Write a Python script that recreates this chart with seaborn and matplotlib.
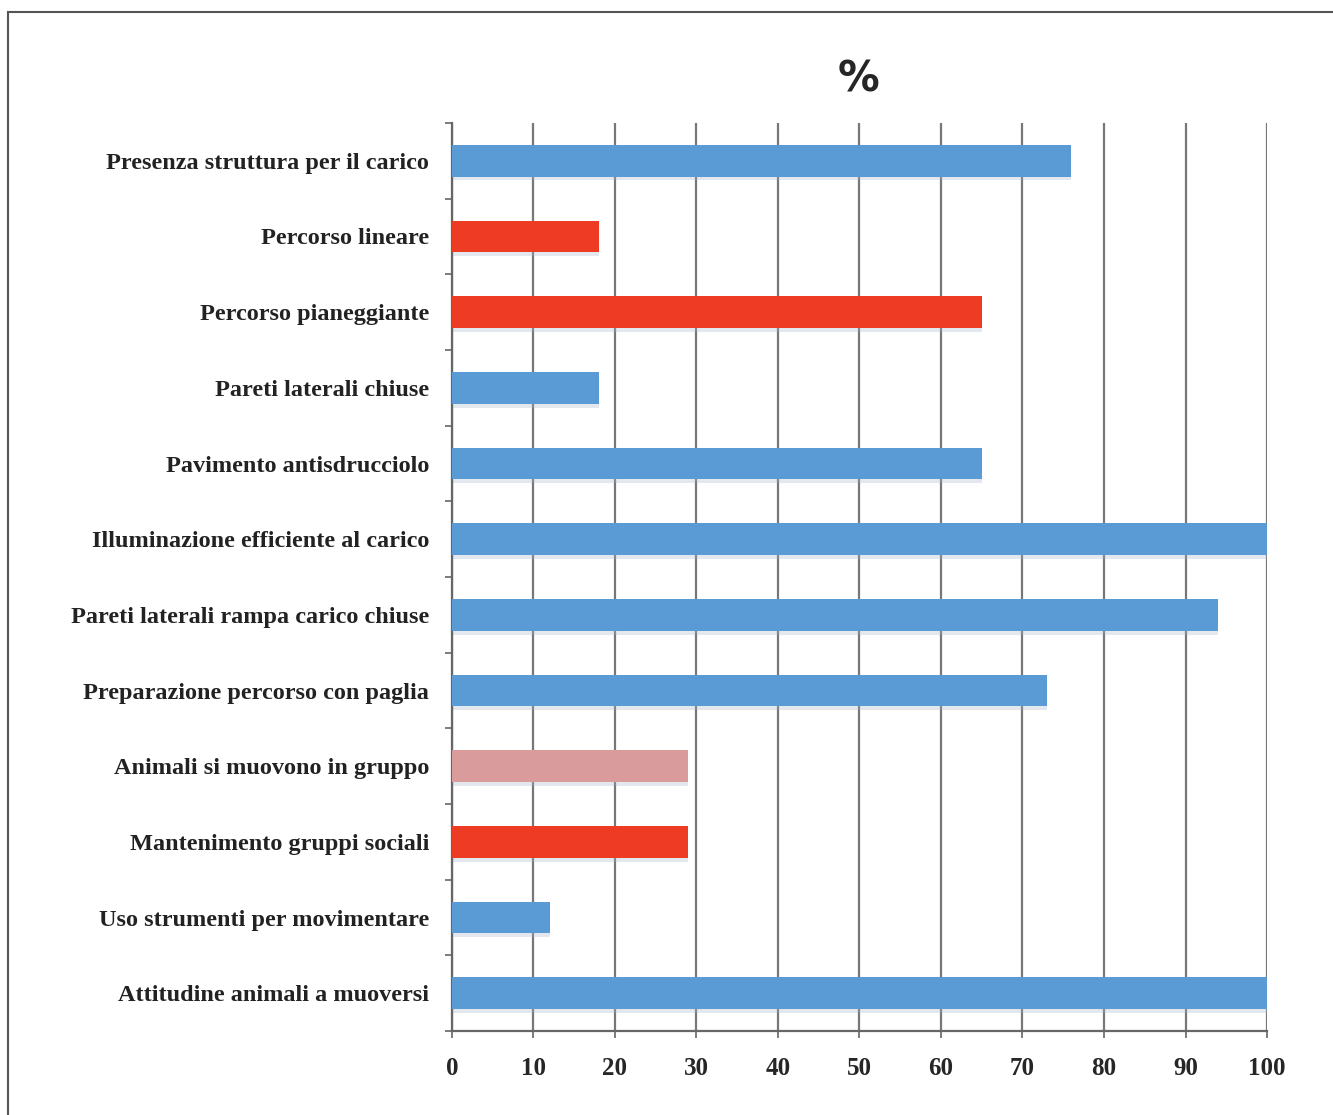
import numpy as np
import pandas as pd
import matplotlib
matplotlib.use("Agg")
import matplotlib.pyplot as plt
import seaborn as sns
from matplotlib.patches import Rectangle

## ==========================================
## Data
## ==========================================

categories = [
    "Presenza struttura per il carico",
    "Percorso lineare",
    "Percorso pianeggiante",
    "Pareti laterali chiuse",
    "Pavimento antisdrucciolo",
    "Illuminazione efficiente al carico",
    "Pareti laterali rampa carico chiuse",
    "Preparazione percorso con paglia",
    "Animali si muovono in gruppo",
    "Mantenimento gruppi sociali",
    "Uso strumenti per movimentare",
    "Attitudine animali a muoversi",
]

values = [76, 18, 65, 18, 65, 100, 94, 73, 29, 29, 12, 100]

bar_colors = [
    "#5b9bd5", "#ee3b24", "#ee3b24", "#5b9bd5", "#5b9bd5", "#5b9bd5",
    "#5b9bd5", "#5b9bd5", "#d99b9b", "#ee3b24", "#5b9bd5", "#5b9bd5",
]

x_ticks = list(range(0, 101, 10))

df = pd.DataFrame({"category": categories, "value": values})

## ==========================================
## Plot
## ==========================================

sns.set_style("white")

fig = plt.figure(figsize=(13.33, 11.15), dpi=100)
ax = fig.add_axes([0.339, 0.0753, 0.6115, 0.8144])

# outer frame of the original picture
fig.patches.append(Rectangle((8 / 1333, -0.1), 1.2, 1 - 12 / 1115 + 0.1,
                             transform=fig.transFigure, fill=False,
                             edgecolor="#555555", linewidth=1.5))

sns.barplot(
    data=df,
    x="value",
    y="category",
    hue="category",
    palette=dict(zip(categories, bar_colors)),
    saturation=1,
    legend=False,
    width=0.42,
    edgecolor="none",
    ax=ax,
    zorder=3,
)

# soft shadow under each bar
for i, v in enumerate(values):
    ax.barh(i + 0.05, v, height=0.42, color="#9fb4c8", alpha=0.3,
            zorder=2, edgecolor="none")

ax.set_xlim(0, 100)
ax.set_ylim(len(categories) - 0.5, -0.5)
ax.set_xticks(x_ticks)
ax.set_xticklabels([str(t) for t in x_ticks], fontsize=18,
                   fontweight="bold", family="Liberation Serif")
ax.set_yticks(range(len(categories)))
ax.set_yticklabels(categories, fontsize=17.5, fontweight="bold",
                   family="Liberation Serif", color="#222222")
ax.set_yticks(np.arange(-0.5, len(categories), 1), minor=True)

ax.tick_params(axis="y", which="major", left=False, length=0, pad=16.5)
ax.tick_params(axis="y", which="minor", left=True, length=5,
               color="#666666", direction="out", width=1.2)
ax.tick_params(axis="x", bottom=True, length=5, color="#666666",
               width=1.2, pad=14)

ax.grid(axis="x", color="#777777", linewidth=1.6, zorder=1)
ax.set_axisbelow(True)

for s in ["top", "right"]:
    ax.spines[s].set_visible(False)
for s in ["left", "bottom"]:
    ax.spines[s].set_color("#666666")
    ax.spines[s].set_linewidth(1.6)

ax.set_xlabel("")
ax.set_ylabel("")

fig.text(0.644, 0.929, "%", fontsize=30, fontweight="heavy",
         family="DejaVu Sans", ha="center", va="center")

fig.savefig("out.png", dpi=100)
